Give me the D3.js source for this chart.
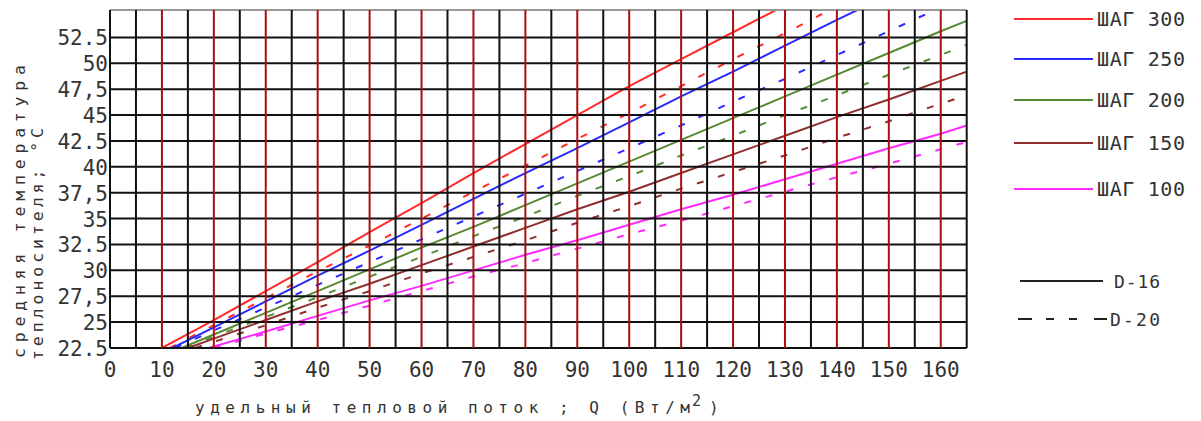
<!DOCTYPE html>
<html>
<head>
<meta charset="utf-8">
<script src="https://cdn.jsdelivr.net/npm/d3@7"></script>
<style>
  html, body { margin: 0; padding: 0; background: #fff; }
  svg { display: block; }
  text { font-family: "DejaVu Sans Mono", monospace; fill: #333; }
</style>
</head>
<body>
<svg id="chart" width="1201" height="421"></svg>
<script>
// x ticks (heat flux, W/m2) and y ticks (mean coolant temperature)
const xTicks = [0, 10, 20, 30, 40, 50, 60, 70, 80, 90, 100, 110, 120, 130, 140, 150, 160];
const yTicks = [22.5, 25, 27.5, 30, 32.5, 35, 37.5, 40, 42.5, 45, 47.5, 50, 52.5];
const yTickLabels = ["22.5", "25", "27,5", "30", "32.5", "35", "37,5", "40", "42.5", "45", "47,5", "50", "52.5"];

// [Q, T]; D-16 solid, D-20 dashed
const step300_d16 = [[10,22.5],[20,25.2],[30,28.0],[40,30.8],[50,33.7],[60,36.5],[70,39.4],[80,42.2],[90,45.0],[100,47.8],[110,50.4],[120,53.0],[130,55.6]];
const step300_d20 = [[11.5,22.5],[20,24.7],[30,27.3],[40,29.9],[50,32.4],[60,35.0],[70,37.6],[80,40.1],[90,42.7],[100,45.2],[110,47.8],[120,50.4],[130,52.9],[140,55.5]];
const step250_d16 = [[12,22.5],[20,24.5],[30,27.0],[40,29.5],[50,31.9],[60,34.4],[70,36.9],[80,39.4],[90,41.8],[100,44.3],[110,46.8],[120,49.2],[130,51.7],[140,54.2],[150,56.6]];
const step250_d20 = [[12.5,22.5],[20,24.2],[30,26.4],[40,28.6],[50,30.8],[60,33.0],[70,35.2],[80,37.4],[90,39.6],[100,41.8],[110,44.0],[120,46.3],[130,48.5],[140,50.8],[150,53.1],[160,55.4]];
const step200_d16 = [[13.8,22.5],[20,23.8],[30,25.9],[40,28.0],[50,30.1],[60,32.2],[70,34.2],[80,36.3],[90,38.4],[100,40.5],[110,42.6],[120,44.7],[130,46.8],[140,48.9],[150,51.0],[160,53.1],[165,54.1]];
const step200_d20 = [[14.5,22.5],[20,23.6],[30,25.5],[40,27.4],[50,29.4],[60,31.3],[70,33.3],[80,35.2],[90,37.2],[100,39.1],[110,41.1],[120,43.0],[130,45.0],[140,46.9],[150,48.9],[160,50.8],[165,51.8]];
const step150_d16 = [[15,22.5],[20,23.4],[30,25.2],[40,27.0],[50,28.7],[60,30.5],[70,32.3],[80,34.1],[90,35.9],[100,37.6],[110,39.4],[120,41.2],[130,43.0],[140,44.8],[150,46.5],[160,48.3],[165,49.2]];
const step150_d20 = [[16.4,22.5],[20,23.1],[30,24.7],[40,26.4],[50,28.0],[60,29.7],[70,31.3],[80,32.9],[90,34.6],[100,36.2],[110,37.9],[120,39.5],[130,41.1],[140,42.8],[150,44.4],[160,46.1],[165,46.9]];
const step100_d16 = [[19,22.5],[30,24.1],[40,25.6],[50,27.1],[60,28.5],[70,30.0],[80,31.5],[90,32.9],[100,34.4],[110,35.9],[120,37.3],[130,38.8],[140,40.3],[150,41.8],[160,43.2],[165,44.0]];
const step100_d20 = [[20,22.5],[30,23.9],[40,25.2],[50,26.6],[60,28.0],[70,29.4],[80,30.7],[90,32.1],[100,33.5],[110,34.8],[120,36.2],[130,37.6],[140,39.0],[150,40.3],[160,41.7],[165,42.4]];

const stepNames = ["ШАГ 300", "ШАГ 250", "ШАГ 200", "ШАГ 150", "ШАГ 100"];
const stepColors = ["#ff2a2a", "#2a2aff", "#588a34", "#8f2f2f", "#ff2aff"];
const pipeNames = ["D-16", "D-20"];

const series = [
    { d: step300_d16, c: 0, dash: false }, { d: step300_d20, c: 0, dash: true },
    { d: step250_d16, c: 1, dash: false }, { d: step250_d20, c: 1, dash: true },
    { d: step200_d16, c: 2, dash: false }, { d: step200_d20, c: 2, dash: true },
    { d: step150_d16, c: 3, dash: false }, { d: step150_d20, c: 3, dash: true },
    { d: step100_d16, c: 4, dash: false }, { d: step100_d20, c: 4, dash: true }
];

const svg = d3.select("#chart");

const x = d3.scaleLinear().domain([0, 165]).range([110, 966.7]);
const y = d3.scaleLinear().domain([22.5, 55.15]).range([348, 10]);

svg.append("clipPath").attr("id", "plot-clip")
    .append("rect")
    .attr("x", x(0)).attr("y", y(55.15))
    .attr("width", x(165) - x(0)).attr("height", y(22.5) - y(55.15));

// 1. curves
const line = d3.line().x(d => x(d[0])).y(d => y(d[1]));
svg.append("g").attr("clip-path", "url(#plot-clip)")
    .selectAll("path")
    .data(series)
    .join("path")
    .attr("d", s => line(s.d))
    .attr("fill", "none")
    .attr("stroke", s => stepColors[s.c])
    .attr("stroke-width", 2)
    .attr("stroke-dasharray", s => s.dash ? "7,15" : null);

// 2. grid over the curves
const grid = svg.append("g");
grid.selectAll(".hline")
    .data(yTicks)
    .join("line")
    .attr("x1", x(0)).attr("x2", x(165))
    .attr("y1", d => y(d)).attr("y2", d => y(d))
    .attr("stroke", "#111").attr("stroke-width", 2);

grid.append("line")
    .attr("x1", x(0)).attr("x2", x(165))
    .attr("y1", y(55.15)).attr("y2", y(55.15))
    .attr("stroke", "#999").attr("stroke-width", 2);

grid.selectAll(".vline")
    .data(d3.range(0, 166, 5))
    .join("line")
    .attr("x1", d => x(d)).attr("x2", d => x(d))
    .attr("y1", y(55.15)).attr("y2", y(22.5))
    .attr("stroke", d => (d % 10 === 0 && d > 0) ? "#a81010" : "#111")
    .attr("stroke-width", 2);

// 3. tick labels
svg.append("g").selectAll("text")
    .data(xTicks)
    .join("text")
    .attr("x", d => x(d)).attr("y", 377)
    .attr("text-anchor", "middle")
    .attr("font-size", 21)
    .text(d => d);

svg.append("g").selectAll("text")
    .data(yTicks)
    .join("text")
    .attr("x", 108).attr("y", d => y(d) + 8)
    .attr("text-anchor", "end")
    .attr("font-size", 21)
    .text((d, i) => yTickLabels[i]);

// 4. axis titles
svg.append("text")
    .attr("transform", "translate(25,358) rotate(-90)")
    .attr("font-size", 16.5)
    .attr("textLength", 293).attr("lengthAdjust", "spacing")
    .text("средняя температура");
svg.append("text")
    .attr("transform", "translate(43,360) rotate(-90)")
    .attr("font-size", 16.5)
    .attr("textLength", 232).attr("lengthAdjust", "spacing")
    .text("теплоносителя; °С");

svg.append("text")
    .attr("x", 195).attr("y", 413)
    .attr("font-size", 16)
    .attr("textLength", 495).attr("lengthAdjust", "spacing")
    .text("удельный тепловой поток ; Q (Вт/м");
svg.append("text").attr("x", 692).attr("y", 406).attr("font-size", 15).text("2");
svg.append("text").attr("x", 709).attr("y", 413).attr("font-size", 16).text(")");

// 5. legend
const legY = [19, 59, 100, 143, 189];
const leg = svg.append("g");
leg.selectAll("line")
    .data(stepNames)
    .join("line")
    .attr("x1", 1014).attr("x2", 1093)
    .attr("y1", (d, i) => legY[i]).attr("y2", (d, i) => legY[i])
    .attr("stroke", (d, i) => stepColors[i]).attr("stroke-width", 2);
leg.selectAll("text")
    .data(stepNames)
    .join("text")
    .attr("x", 1097).attr("y", (d, i) => legY[i] + 7)
    .attr("font-size", 20)
    .attr("textLength", 88).attr("lengthAdjust", "spacing")
    .text(d => d);

const pipeY = [281, 319];
leg.selectAll(".pipe")
    .data(pipeNames)
    .join("line")
    .attr("x1", (d, i) => i ? 1018 : 1020).attr("x2", (d, i) => i ? 1107 : 1103)
    .attr("y1", (d, i) => pipeY[i]).attr("y2", (d, i) => pipeY[i])
    .attr("stroke", "#222").attr("stroke-width", 2)
    .attr("stroke-dasharray", (d, i) => i ? "14,14,8,15,8,17" : null);
leg.selectAll(".pipe-label")
    .data(pipeNames)
    .join("text")
    .attr("x", (d, i) => i ? 1110 : 1114).attr("y", (d, i) => pipeY[i] + 7)
    .attr("font-size", 18)
    .attr("textLength", (d, i) => i ? 50 : 46).attr("lengthAdjust", "spacing")
    .text(d => d);
</script>
</body>
</html>
